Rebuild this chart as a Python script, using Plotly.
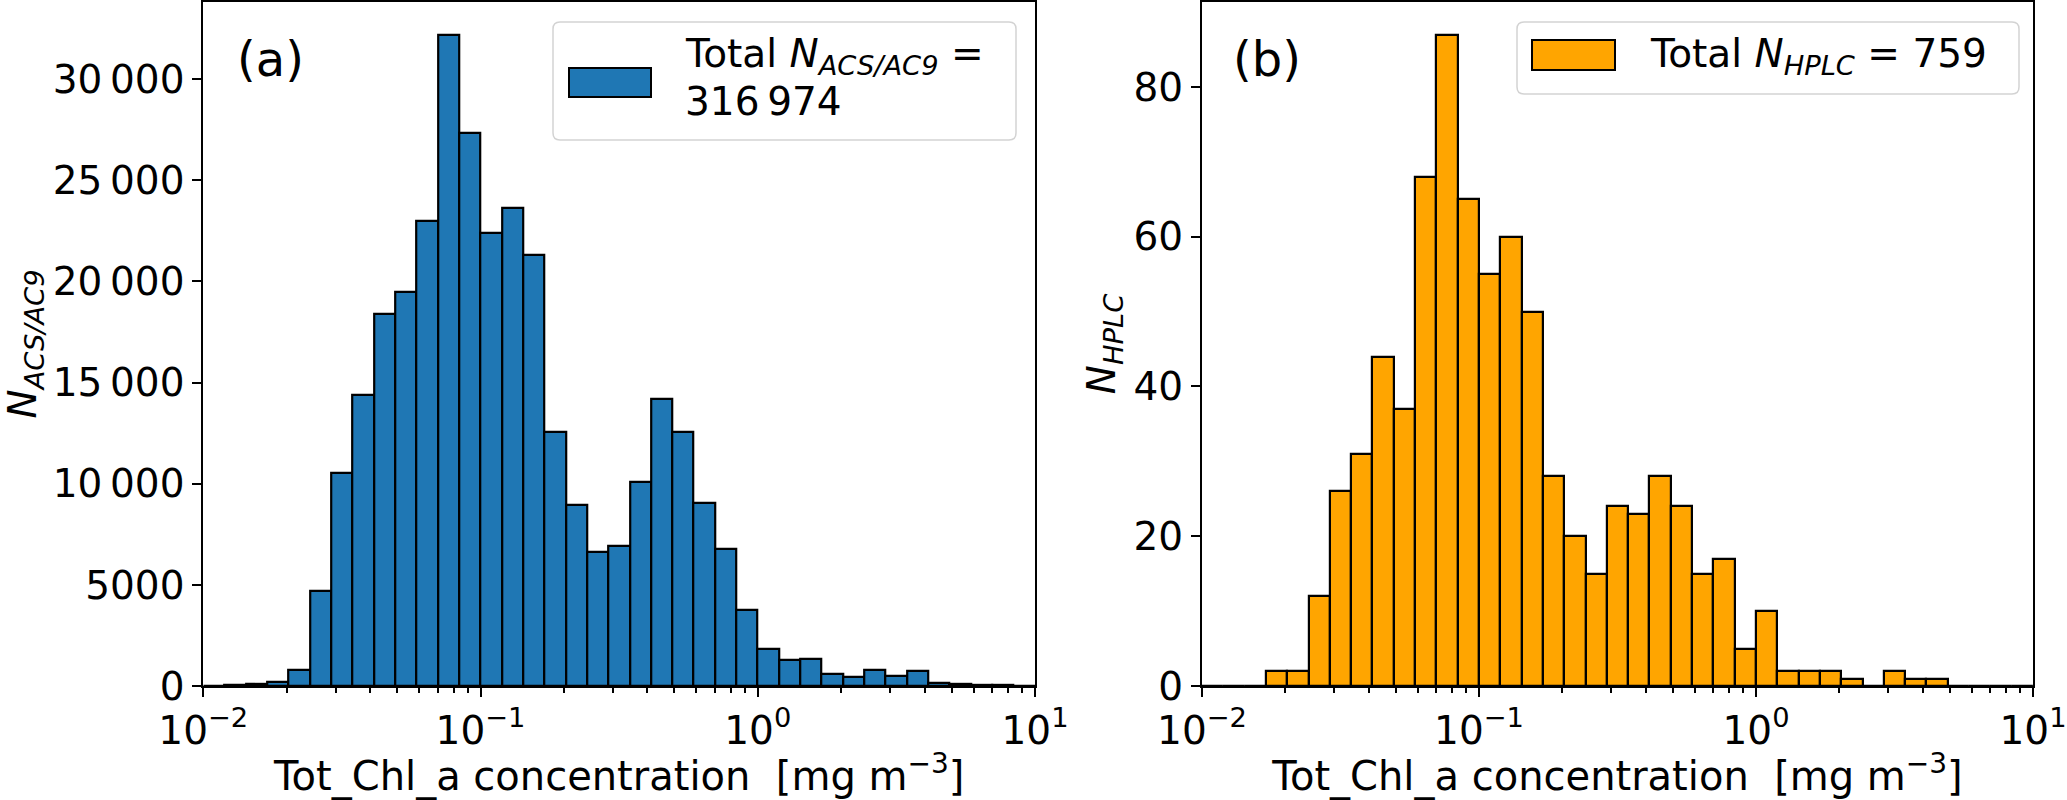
import numpy as np
import plotly.graph_objects as go

# histogram bins: 39 log-spaced bins between 1e-2 and 1e1 (kept as log10 edges)
log_edges = np.linspace(-2, 1, 40)

acs_counts = [10, 60, 80, 180, 790, 4700, 10550, 14400, 18370, 19500,
              22970, 32200, 27330, 22370, 23630, 21300, 12540, 8970, 6620, 6920,
              10100, 14180, 12570, 9040, 6750, 3750, 1840, 1280, 1315, 610,
              430, 770, 490, 720, 165, 115, 30, 66, 16]
hplc_counts = [0, 0, 0, 2, 2, 12, 26, 31, 44, 37,
               68, 87, 65, 55, 60, 50, 28, 20, 15, 24,
               23, 28, 24, 15, 17, 5, 10, 2, 2, 2,
               1, 0, 2, 1, 1, 0, 0, 0, 0]

acs_total = "316\u2009974"
hplc_total = "759"

x_tickvals = [-2, -1, 0, 1]
x_ticktext = ["10<sup>\u22122</sup>", "10<sup>\u22121</sup>", "10<sup>0</sup>", "10<sup>1</sup>"]
acs_tickvals = [0, 5000, 10000, 15000, 20000, 25000, 30000]
acs_ticktext = ["0", "5000", "10\u2009000", "15\u2009000", "20\u2009000", "25\u2009000", "30\u2009000"]
hplc_tickvals = [0, 20, 40, 60, 80]
hplc_ticktext = ["0", "20", "40", "60", "80"]

W, H = 2067, 800
FONT = "DejaVu Sans"
FS = 39

bin_w = log_edges[1] - log_edges[0]
centers = log_edges[:-1] + bin_w / 2
minor_vals = [d + np.log10(m) for d in (-2, -1, 0) for m in range(2, 10)]


def px(x):
    return x / W


def py(y):
    return 1 - y / H


def round_box(x0, y0, x1, y1, r=7):
    """SVG path (paper coords) for a rounded legend frame given pixel corners"""
    rx, ry = r / W, r / H
    a, b, c, d = px(x0), py(y0), px(x1), py(y1)
    return (f"M {a + rx},{b} L {c - rx},{b} Q {c},{b} {c},{b - ry} "
            f"L {c},{d + ry} Q {c},{d} {c - rx},{d} L {a + rx},{d} "
            f"Q {a},{d} {a},{d + ry} L {a},{b - ry} Q {a},{b} {a + rx},{b} Z")


fig = go.Figure()
fig.add_trace(go.Bar(x=centers, y=acs_counts, width=bin_w,
                     marker=dict(color="#1f77b4", line=dict(color="black", width=2.2)),
                     xaxis="x", yaxis="y", showlegend=False))
fig.add_trace(go.Bar(x=centers, y=hplc_counts, width=bin_w,
                     marker=dict(color="#ffa500", line=dict(color="black", width=2.2)),
                     xaxis="x2", yaxis="y2", showlegend=False))

axis_common = dict(showline=True, linecolor="black", linewidth=2, mirror=True,
                   ticks="outside", ticklen=9, tickwidth=2, tickcolor="black",
                   showgrid=False, zeroline=False, automargin=False,
                   tickfont=dict(family=FONT, size=FS, color="black"))
x_common = dict(axis_common, range=[-2, 1], tickmode="array",
                tickvals=x_tickvals, ticktext=x_ticktext,
                minor=dict(tickmode="array", tickvals=minor_vals, ticks="outside",
                           ticklen=5, tickwidth=1.5, tickcolor="black"),
                title=dict(text="Tot_Chl_a concentration \u00a0[mg m<sup>\u22123</sup>]",
                           font=dict(family=FONT, size=40, color="black"), standoff=4))

fig.update_layout(
    width=W, height=H,
    margin=dict(l=0, r=0, t=0, b=0),
    paper_bgcolor="white", plot_bgcolor="white",
    bargap=0,
    font=dict(family=FONT, size=FS, color="black"),
    xaxis=dict(x_common, domain=[px(203.3), px(1035)], anchor="y"),
    xaxis2=dict(x_common, domain=[px(1202), px(2033)], anchor="y2"),
    yaxis=dict(axis_common, domain=[py(686), py(2)], anchor="x",
               range=[0, 33810], tickmode="array",
               tickvals=acs_tickvals, ticktext=acs_ticktext,
               title=dict(text="<i>N</i><sub><i>ACS/AC9</i></sub>",
                          font=dict(family=FONT, size=FS, color="black"), standoff=9)),
    yaxis2=dict(axis_common, domain=[py(686), py(2)], anchor="x2",
                range=[0, 91.35], tickmode="array",
                tickvals=hplc_tickvals, ticktext=hplc_ticktext,
                title=dict(text="<i>N</i><sub><i>HPLC</i></sub>",
                           font=dict(family=FONT, size=FS, color="black"), standoff=6)),
)

# legend frames and patches, drawn by hand to get matplotlib-like boxes
shapes = [
    dict(type="path", xref="paper", yref="paper", path=round_box(553, 22, 1016, 140),
         fillcolor="white", line=dict(color="#d3d3d3", width=1.5)),
    dict(type="rect", xref="paper", yref="paper", x0=px(569), x1=px(651), y0=py(97), y1=py(68),
         fillcolor="#1f77b4", line=dict(color="black", width=2)),
    dict(type="path", xref="paper", yref="paper", path=round_box(1517, 22, 2019, 94),
         fillcolor="white", line=dict(color="#d3d3d3", width=1.5)),
    dict(type="rect", xref="paper", yref="paper", x0=px(1532), x1=px(1615), y0=py(70), y1=py(40),
         fillcolor="#ffa500", line=dict(color="black", width=2)),
]
fig.update_layout(shapes=shapes)

notes = [
    ("Total <i>N</i><sub><i>ACS/AC9</i></sub> =", 683, 56, FS),
    (acs_total, 683, 102, FS),
    ("Total <i>N</i><sub><i>HPLC</i></sub> = " + hplc_total, 1648, 56, FS),
    ("(a)", 235, 59, 48),
    ("(b)", 1231, 59, 48),
]
for text, x, y, size in notes:
    fig.add_annotation(text=text, xref="paper", yref="paper", x=px(x), y=py(y),
                       xanchor="left", yanchor="middle", showarrow=False,
                       font=dict(family=FONT, size=size, color="black"))

# drop the browser's default body margin so the figure sits at the page corner
fig.write_html("out.html", config={"displayModeBar": False},
               post_script="document.body.style.margin = '0';")
